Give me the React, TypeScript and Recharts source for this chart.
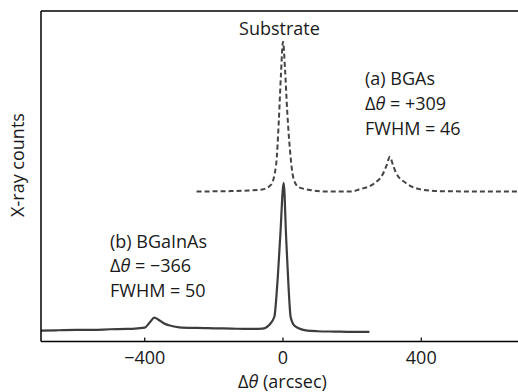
import { LineChart, Line, XAxis, YAxis, ReferenceLine, Customized } from "recharts";

// (a) BGAs — dashed curve, offset upward
const bgasTheta = [-250, -150, -100, -60, -35, -20, -12, -6, 0, 6, 12, 20, 30, 45, 70, 120, 200, 220, 265, 290, 300, 309, 318, 327, 355, 395, 450, 550, 700];
const bgasCounts = [45.4, 45.5, 45.7, 46.0, 47.4, 53.4, 67.0, 80.6, 90.7, 82.1, 70.0, 58.1, 49.5, 46.7, 46.0, 45.4, 45.4, 46.0, 47.9, 50.9, 53.4, 55.9, 53.4, 51.0, 48.0, 46.1, 45.5, 45.4, 45.4];

// (b) BGaInAs — solid curve
const bgainasTheta = [-700, -650, -600, -550, -500, -450, -420, -400, -385, -372, -360, -345, -330, -300, -250, -200, -150, -100, -60, -40, -25, -17, -8, 2, 9, 16, 22, 30, 45, 70, 100, 150, 200, 250];
const bgainasCounts = [3.3, 3.4, 3.5, 3.5, 3.7, 3.8, 4.0, 4.2, 5.8, 7.2, 6.6, 5.5, 4.9, 4.3, 4.1, 4.0, 3.9, 3.8, 3.9, 5.0, 7.5, 16.6, 31.7, 48.0, 31.7, 16.6, 7.5, 5.2, 4.0, 3.3, 3.1, 3.0, 2.9, 2.9];

const xTicks = [-400, 0, 400];

const bgasData = bgasTheta.map((x, i) => ({ x, y: bgasCounts[i] }));
const bgainasData = bgainasTheta.map((x, i) => ({ x, y: bgainasCounts[i] }));

const FONT = "'Open Sans', sans-serif";
const FS = 18;
const INK = "#1a1a1a";

const fmt = (v: number) => (v < 0 ? "\u2212" + Math.abs(v) : String(v));

const Theta = () => <tspan fontStyle="italic">θ</tspan>;

// 注釈テキスト
const Notes = () => (
  <g fontFamily={FONT} fontSize={FS} fill={INK}>
    <text x={279.5} y={35} textAnchor="middle">Substrate</text>
    <text x={365} y={85}>(a) BGAs</text>
    <text x={365} y={110}>Δ<Theta /> = +309</text>
    <text x={365} y={135}>FWHM = 46</text>
    <text x={110} y={248}>(b) BGaInAs</text>
    <text x={110} y={272}>Δ<Theta /> = −366</text>
    <text x={110} y={297}>FWHM = 50</text>
    <text x={282.5} y={388} textAnchor="middle">Δ<Theta /> (arcsec)</text>
    <text x={23.5} y={165} textAnchor="middle" transform="rotate(-90 23.5 165)">X-ray counts</text>
  </g>
);

export default function App() {
  return (
    <div style={{ position: "fixed", left: 0, top: 0, width: 518, height: 392, overflow: "hidden", background: "#fff" }}>
      <LineChart width={560} height={392} margin={{ top: 11, right: 35, left: 0, bottom: 0.5 }}>
        <XAxis
          type="number"
          dataKey="x"
          domain={[-700, 700]}
          ticks={xTicks}
          tickFormatter={fmt}
          allowDataOverflow
          height={50}
          tickSize={-4}
          tickMargin={14}
          axisLine={{ stroke: "#000", strokeWidth: 1.5 }}
          tickLine={{ stroke: "#000", strokeWidth: 1.2 }}
          tick={{ fill: INK, fontSize: FS, fontFamily: FONT }}
        />
        <YAxis
          type="number"
          domain={[0, 100]}
          width={41}
          tick={false}
          tickLine={false}
          axisLine={{ stroke: "#000", strokeWidth: 1.5 }}
        />
        <ReferenceLine y={100} stroke="#000" strokeWidth={1.5} />
        <ReferenceLine x={700} stroke="#000" strokeWidth={1.5} />
        <Line
          data={bgasData}
          dataKey="y"
          type="monotone"
          stroke="#444"
          strokeWidth={2}
          strokeDasharray="5 3"
          dot={false}
          isAnimationActive={false}
        />
        <Line
          data={bgainasData}
          dataKey="y"
          type="monotone"
          stroke="#3d3d3d"
          strokeWidth={2.2}
          dot={false}
          isAnimationActive={false}
        />
        <Customized component={Notes} />
      </LineChart>
    </div>
  );
}
